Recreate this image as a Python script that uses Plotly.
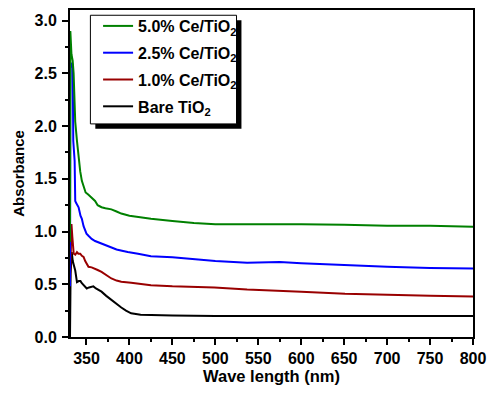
import plotly.graph_objects as go

# Wavelength (nm) / absorbance pairs
green_x = [330.8, 331.2, 332.5, 333.9, 335.0, 336.0, 336.9, 338.9, 340.8, 342.7, 344.6, 346.6, 349.0, 352.0, 356.0, 360.0, 363.0, 367.5, 372.0, 379.0, 385.0, 390.5, 400.0, 425.0, 450.0, 475.0, 500.0, 540.0, 575.0, 600.0, 650.0, 700.0, 750.0, 800.0]
green_y = [0.90, 2.90, 2.68, 2.62, 2.50, 2.25, 2.04, 1.86, 1.70, 1.57, 1.48, 1.42, 1.37, 1.35, 1.32, 1.29, 1.25, 1.23, 1.22, 1.21, 1.19, 1.17, 1.15, 1.12, 1.10, 1.08, 1.07, 1.07, 1.075, 1.07, 1.065, 1.055, 1.055, 1.045]

blue_x = [330.8, 331.3, 333.0, 333.8, 334.3, 334.6, 336.2, 336.9, 338.0, 340.8, 343.0, 344.6, 346.6, 348.4, 350.0, 352.3, 356.0, 360.0, 366.0, 372.0, 379.0, 385.0, 390.0, 398.0, 410.0, 425.0, 450.0, 475.0, 500.0, 537.0, 575.0, 600.0, 650.0, 700.0, 750.0, 800.0]
blue_y = [0.48, 2.55, 2.60, 2.58, 2.20, 1.86, 1.67, 1.29, 1.27, 1.23, 1.15, 1.12, 1.05, 1.02, 0.98, 0.96, 0.93, 0.91, 0.89, 0.87, 0.85, 0.83, 0.82, 0.805, 0.79, 0.765, 0.755, 0.735, 0.72, 0.705, 0.71, 0.70, 0.68, 0.665, 0.655, 0.65]

red_x = [330.8, 332.5, 333.5, 335.1, 337.0, 338.9, 340.5, 342.7, 344.6, 346.6, 348.5, 350.5, 352.3, 356.0, 359.9, 363.0, 367.5, 372.0, 379.0, 385.0, 390.5, 402.0, 413.0, 425.0, 450.0, 499.0, 537.0, 575.0, 600.0, 651.0, 709.0, 750.0, 800.0]
red_y = [0.50, 1.07, 0.95, 0.79, 0.78, 0.805, 0.79, 0.79, 0.77, 0.76, 0.72, 0.69, 0.665, 0.66, 0.65, 0.635, 0.617, 0.59, 0.555, 0.535, 0.523, 0.514, 0.50, 0.49, 0.48, 0.47, 0.45, 0.44, 0.43, 0.41, 0.395, 0.39, 0.385]

black_x = [330.8, 331.5, 332.8, 334.0, 336.9, 338.9, 341.0, 343.0, 344.6, 347.0, 350.3, 353.0, 356.0, 358.0, 361.0, 367.5, 373.0, 379.0, 385.0, 390.5, 396.0, 402.0, 413.0, 425.0, 450.0, 500.0, 600.0, 700.0, 800.0]
black_y = [0.0, 0.60, 0.805, 0.72, 0.63, 0.52, 0.53, 0.53, 0.51, 0.49, 0.46, 0.47, 0.48, 0.48, 0.46, 0.43, 0.39, 0.35, 0.31, 0.28, 0.25, 0.225, 0.21, 0.21, 0.205, 0.20, 0.20, 0.20, 0.20]

names = ["5.0% Ce/TiO<sub>2</sub>", "2.5% Ce/TiO<sub>2</sub>", "1.0% Ce/TiO<sub>2</sub>", "Bare TiO<sub>2</sub>"]
colors = ["#008000", "#0000ff", "#990000", "#000000"]
xs = [green_x, blue_x, red_x, black_x]
ys = [green_y, blue_y, red_y, black_y]

x_ticks = [350, 400, 450, 500, 550, 600, 650, 700, 750, 800]
y_ticks = [0.0, 0.5, 1.0, 1.5, 2.0, 2.5, 3.0]

font_family = "Liberation Sans, Arial, sans-serif"

fig = go.Figure()
# draw black first so green ends on top; legendrank keeps green first in the legend
for i in reversed(range(4)):
    fig.add_trace(go.Scatter(x=xs[i], y=ys[i], mode="lines", name=names[i],
                             legendgroup="g%d" % i, legendrank=i + 1,
                             line=dict(color=colors[i], width=2)))

axis_common = dict(
    showline=True, linecolor="black", linewidth=2, mirror=True,
    ticks="outside", tickwidth=2, ticklen=6, tickcolor="black",
    showgrid=False, zeroline=False,
    tickfont=dict(family=font_family, size=16, color="black", weight="bold"),
)

fig.update_xaxes(range=[330.8, 800], tickvals=x_ticks,
                 ticktext=[str(v) for v in x_ticks],
                 minor=dict(ticks="outside", ticklen=3, tickwidth=2, tickcolor="black", dtick=25, tick0=325),
                 title=dict(text="Wave length (nm)", font=dict(family=font_family, size=16.5, color="black", weight="bold"), standoff=2),
                 **axis_common)
fig.update_yaxes(range=[0, 3.1], tickvals=y_ticks,
                 ticktext=["%.1f" % v for v in y_ticks],
                 minor=dict(ticks="outside", ticklen=3, tickwidth=2, tickcolor="black", dtick=0.25, tick0=0),
                 ticklabelstandoff=2,
                 title=dict(text="Absorbance", font=dict(family=font_family, size=15, color="black", weight="bold"), standoff=6),
                 **axis_common)

# legend frame (pixels) as drawn in the reference, with its drop shadow (offset ~5 px)
L, T, R, B = 90.7, 13.3, 239.0, 122.7
pl, pt, pw, ph = 70.0, 8.0, 409.0, 329.3
def px2paper_x(p):
    return (p - pl) / pw
def px2paper_y(p):
    return (pt + ph - p) / ph

fig.update_layout(
    width=494, height=396,
    margin=dict(l=70, r=15, t=8, b=59),
    plot_bgcolor="white", paper_bgcolor="white",
    font=dict(family=font_family, size=16, color="black", weight="bold"),
    showlegend=True,
    legend=dict(x=px2paper_x(98.5), y=px2paper_y(7.0), xanchor="left", yanchor="top",
                bgcolor="rgba(0,0,0,0)", borderwidth=0,
                traceorder="grouped", tracegroupgap=3,
                font=dict(family=font_family, size=16, color="black", weight="bold")),
    shapes=[
        dict(type="rect", xref="paper", yref="paper",
             x0=px2paper_x(L + 5), x1=px2paper_x(R + 5),
             y0=px2paper_y(B + 5), y1=px2paper_y(T + 5),
             fillcolor="black", line=dict(width=0), layer="below"),
        dict(type="rect", xref="paper", yref="paper",
             x0=px2paper_x(L), x1=px2paper_x(R),
             y0=px2paper_y(B), y1=px2paper_y(T),
             fillcolor="white", line=dict(color="black", width=1), layer="below"),
    ],
)

fig.write_html("out.html")
